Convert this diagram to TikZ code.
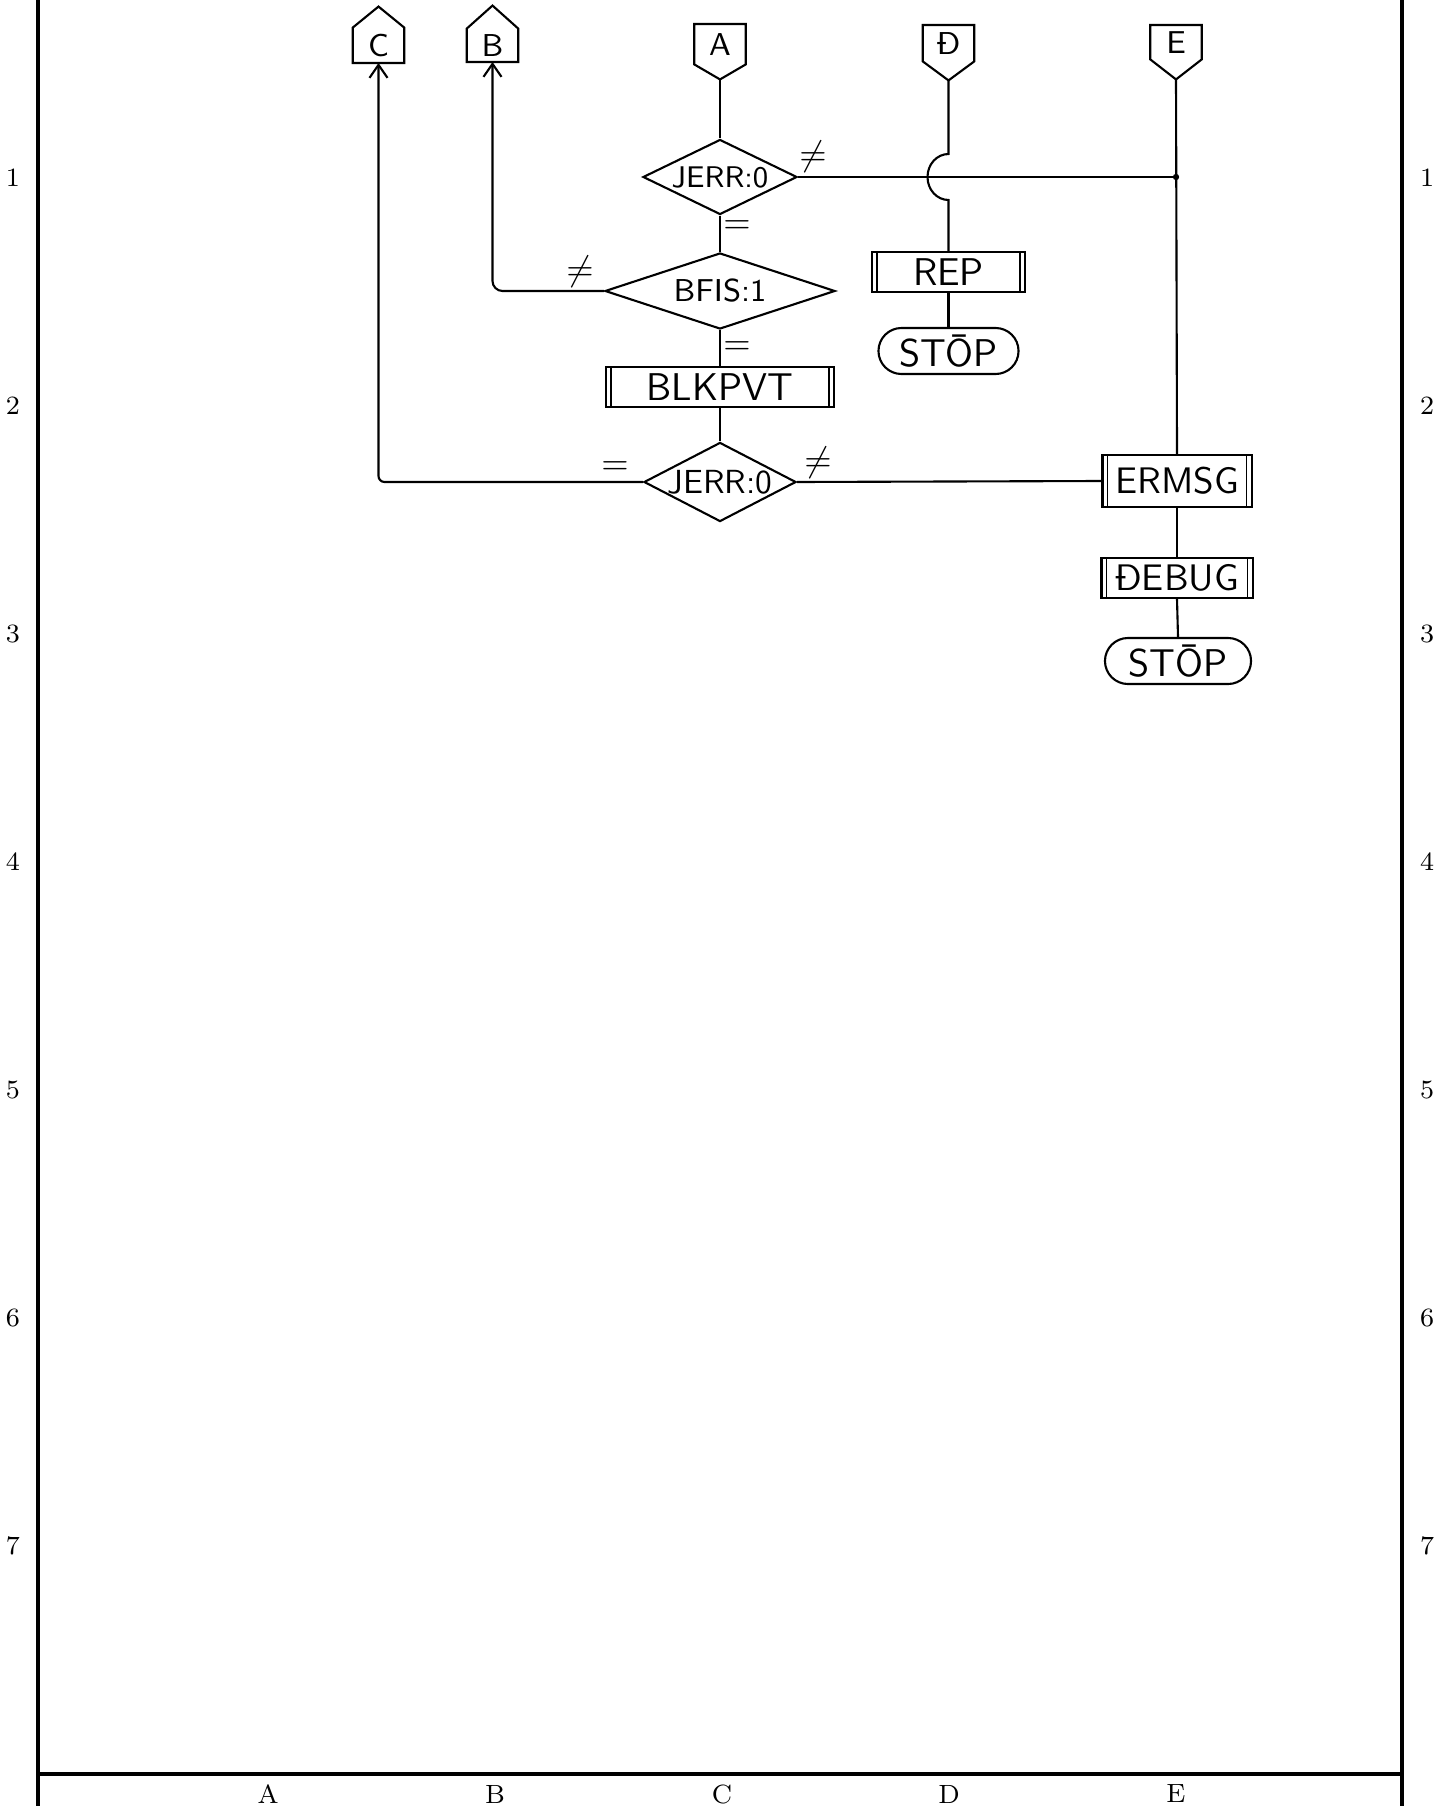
\documentclass[tikz,border=0pt]{standalone}
\usepackage{tikz}
\usetikzlibrary{positioning, calc, arrows.meta, shapes.geometric, shapes.misc}

\begin{document}
\begin{tikzpicture}[x=0.01cm, y=-0.01cm, >={Straight Barb[length=0.13cm, width=0.18cm]},
    hand/.style={font=\sffamily\fontsize{#1}{#1}\selectfont},
    gridlbl/.style={font=\fontsize{7.5}{9}\selectfont, inner sep=0pt},
    frame/.style={line width=1pt},
    flow/.style={line width=0.6pt},
    sign/.style={font=\fontsize{10}{10}\selectfont, inner sep=0pt},
    decision/.style={diamond, draw, flow, inner sep=0pt},
    subproc/.style={rectangle, draw, flow, inner sep=0pt,
        path picture={
            \draw[line width=0.5pt] ([xshift=0.05cm]path picture bounding box.north west) -- ([xshift=0.05cm]path picture bounding box.south west);
            \draw[line width=0.5pt] ([xshift=-0.05cm]path picture bounding box.north east) -- ([xshift=-0.05cm]path picture bounding box.south east);}},
    terminal/.style={rounded rectangle, draw, flow, inner sep=0pt},
    offbox/.style={rectangle, inner sep=0pt, minimum width=0.5cm, hand=9}]

    \useasboundingbox (0,0) rectangle (1439,1806);

    % Sheet frame and grid references
    \draw[frame] (38,0) -- (38,1806);
    \draw[frame] (1402,0) -- (1402,1806);
    \draw[frame] (38,1774) -- (1402,1774);
    \foreach \r in {1,...,7} {
        \node[gridlbl] (L\r) at (13, {178+228*(\r-1)}) {\r};
        \node[gridlbl] (R\r) at (1427, {178+228*(\r-1)}) {\r};
    }
    \foreach \c [count=\i from 0] in {A,B,C,D,E}
        \node[gridlbl] (col\c) at ({268+227*\i}, 1794) {\c};

    % Off-page connectors (outgoing ones point up, incoming ones point down)
    \node[offbox, minimum height=0.34cm, anchor=south] (C) at (378.5,63) {C};
    \node[offbox, minimum height=0.32cm, anchor=south] (B) at (492.5,62) {B};
    \node[offbox, minimum height=0.39cm, anchor=north] (A) at (720,24) {A};
    \node[offbox, minimum height=0.35cm, anchor=north] (D) at (948.5,25) {Đ};
    \node[offbox, minimum height=0.33cm, anchor=north] (E) at (1176,25) {E};
    \coordinate (Ctip) at ($(C.north)+(0,-21)$);
    \coordinate (Btip) at ($(B.north)+(0,-23)$);
    \coordinate (Atip) at ($(A.south)+(0,15)$);
    \coordinate (Dtip) at ($(D.south)+(0,19)$);
    \coordinate (Etip) at ($(E.south)+(0,20)$);
    \foreach \n in {C,B}
        \draw[flow] (\n.south west) -- (\n.south east) -- (\n.north east) -- (\n tip) -- (\n.north west) -- cycle;
    \foreach \n in {A,D,E}
        \draw[flow] (\n.north west) -- (\n.north east) -- (\n.south east) -- (\n tip) -- (\n.south west) -- cycle;

    % Main column
    \node[decision, minimum width=1.54cm, minimum height=0.75cm, aspect=2, hand=8.5] (d1) at (720,177) {JERR:0};
    \node[decision, minimum width=2.30cm, minimum height=0.76cm, aspect=3, hand=9] (d2) at (720,291) {BFIS:1};
    \node[subproc, minimum width=2.28cm, minimum height=0.40cm, hand=11] (blk) at (720,387) {BLKPVT};
    \node[decision, minimum width=1.52cm, minimum height=0.79cm, aspect=1.9, hand=9.5] (d3) at (720,482) {JERR:0};

    % Column D
    \node[subproc, minimum width=1.53cm, minimum height=0.40cm, hand=11] (rep) at (948.5,272) {REP};
    \node[terminal, minimum width=1.40cm, minimum height=0.46cm, hand=11] (stop1) at (948.5,351) {ST\=OP};

    % Column E
    \node[subproc, minimum width=1.49cm, minimum height=0.52cm, hand=10.5] (erm) at (1177,481) {ERMSG};
    \node[subproc, minimum width=1.51cm, minimum height=0.40cm, hand=10.5] (dbg) at (1177,578) {ĐEBUG};
    \node[terminal, minimum width=1.46cm, minimum height=0.46cm, hand=11] (stop2) at (1178,661) {ST\=OP};

    % Branch labels
    \node[sign] (ne1) at (813,157) {$\neq$};
    \node[sign] (eq1) at (737,227) {$=$};
    \node[sign] (ne2) at (580,272) {$\neq$};
    \node[sign] (eq2) at (737,348) {$=$};
    \node[sign] (eq3) at (615,468) {$=$};
    \node[sign] (ne3) at (818,463) {$\neq$};

    % Flow lines
    \draw[flow] (Atip) -- (d1.north);
    \draw[flow] (d1.south) -- (d2.north);
    \draw[flow] (d2.south) -- (blk.north);
    \draw[flow] (blk.south) -- (d3.north);
    \draw[flow, ->, rounded corners=0.1cm] (d2.west) -| (B.south);
    \draw[flow, ->, rounded corners=0.06cm] (d3.west) -| (C.south);
    \draw[flow] (d3.east) -- (erm.west);

    % Error path to E
    \coordinate (Ejoin) at (Etip |- d1.east);
    \draw[flow] (Etip) -- (erm.north);
    \draw[line width=0.5pt] (d1.east) -- (Ejoin);
    \fill (Ejoin) circle (0.9pt);
    \draw[flow] (erm.south) -- (dbg.north);
    \draw[flow] (dbg.south) -- (stop2.north);

    % D line hops over the error path
    \draw[flow] (Dtip) -- ($(Dtip |- d1.east)+(0,-23)$)
        arc[start angle=270, end angle=90, x radius=21, y radius=23] -- (rep.north);
    \draw[flow] (rep.south) -- (stop1.north);
\end{tikzpicture}
\end{document}
